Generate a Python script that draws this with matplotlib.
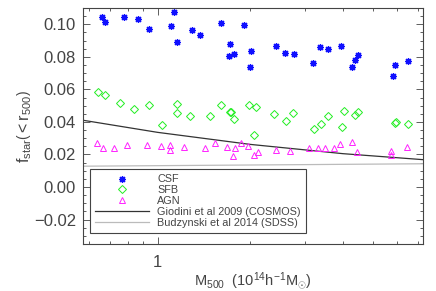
import numpy as np
import matplotlib
matplotlib.use('Agg')
import matplotlib.pyplot as plt
from matplotlib.lines import Line2D

# ---- data ----
csf_m = [0.661, 0.676, 0.781, 0.863, 0.935, 1.134, 1.109, 1.153, 1.290, 1.369,
         1.602, 1.720, 1.701, 1.773, 1.909, 2.006, 1.994, 2.422, 2.599, 2.764,
         3.189, 3.370, 3.585, 3.928, 4.268, 4.361, 4.460, 5.816, 5.895, 6.481]
csf_f = [0.1047, 0.1017, 0.1045, 0.1035, 0.0974, 0.1074, 0.0991, 0.0890, 0.0967, 0.0932,
         0.1009, 0.0879, 0.0807, 0.0820, 0.0995, 0.0838, 0.0737, 0.0867, 0.0821, 0.0815,
         0.0762, 0.0858, 0.0849, 0.0864, 0.0739, 0.0783, 0.0809, 0.0682, 0.0749, 0.0775]

sfb_m = [0.640, 0.677, 0.756, 0.839, 0.939, 1.030, 1.155, 1.154, 1.278, 1.481,
         1.602, 1.718, 1.732, 1.772, 1.979, 2.054, 2.088, 2.382, 2.604, 2.760,
         3.210, 3.402, 3.578, 3.972, 4.032, 4.387, 4.463, 5.882, 5.949, 6.520]
sfb_f = [0.0581, 0.0568, 0.0515, 0.0479, 0.0501, 0.0383, 0.0513, 0.0452, 0.0438, 0.0434,
         0.0507, 0.0459, 0.0464, 0.0418, 0.0504, 0.0318, 0.0493, 0.0446, 0.0403, 0.0455,
         0.0357, 0.0387, 0.0434, 0.0366, 0.0467, 0.0444, 0.0458, 0.0395, 0.0399, 0.0388]

agn_m = [0.635, 0.663, 0.722, 0.796, 0.922, 1.023, 1.100, 1.099, 1.215, 1.426,
         1.535, 1.679, 1.789, 1.753, 1.860, 1.967, 2.062, 2.112, 2.430, 2.683,
         3.111, 3.315, 3.501, 3.737, 3.899, 4.268, 4.428, 5.742, 5.742, 6.438]
agn_f = [0.0272, 0.0240, 0.0242, 0.0259, 0.0259, 0.0254, 0.0256, 0.0228, 0.0244, 0.0242,
         0.0271, 0.0244, 0.0240, 0.0193, 0.0268, 0.0253, 0.0194, 0.0215, 0.0225, 0.0221,
         0.0242, 0.0240, 0.0240, 0.0240, 0.0262, 0.0274, 0.0217, 0.0223, 0.0197, 0.0248]

# relations
giodini_m = [0.57, 1.0, 2.0, 4.0, 7.3]
giodini_f = [0.0411, 0.0336, 0.0262, 0.0205, 0.0168]
budz_m = [0.57, 7.3]
budz_f = [0.0128, 0.0143]

plt.rcParams['font.family'] = ['Liberation Sans', 'DejaVu Sans']
plt.rcParams['mathtext.fontset'] = 'custom'
plt.rcParams['mathtext.rm'] = 'Liberation Sans'
plt.rcParams['mathtext.it'] = 'Liberation Sans'

ink = '#444444'

fig = plt.figure(figsize=(4.36, 2.91), dpi=100)
ax = fig.add_axes([0.190, 0.1615, 0.780, 0.811])

ax.plot(giodini_m, giodini_f, color='#333333', lw=0.9)
ax.plot(budz_m, budz_f, color='#bbbbbb', lw=0.9)

ax.plot(csf_m, csf_f, ls='none', marker=(8, 2, 0), ms=5, mew=0.9, color='#1010ff')
ax.plot(sfb_m, sfb_f, ls='none', marker='D', ms=3.6, mew=0.7, mfc='none', mec='#22ee22')
ax.plot(agn_m, agn_f, ls='none', marker='^', ms=4.2, mew=0.7, mfc='none', mec='#ff22ff')

ax.set_xscale('log')
ax.set_xlim(0.572, 7.27)
ax.set_ylim(-0.035, 0.11)

ax.set_xticks([1])
ax.set_xticklabels(['1'])
ax.set_xticks([0.6, 0.7, 0.8, 0.9, 2, 3, 4, 5, 6, 7], minor=True)
ax.set_xticklabels([], minor=True)
ax.set_yticks([-0.02, 0.0, 0.02, 0.04, 0.06, 0.08, 0.10])
ax.set_yticklabels(['\u22120.02', '0.00', '0.02', '0.04', '0.06', '0.08', '0.10'])
ax.set_yticks(np.arange(-0.035, 0.1101, 0.005), minor=True)

ax.tick_params(which='both', direction='in', top=True, right=True, color=ink,
               labelcolor=ink, labelsize=12, width=0.6)
ax.tick_params(which='major', length=5, pad=5)
ax.tick_params(axis='x', which='major', pad=8)
ax.tick_params(which='minor', length=2.5)
for s in ax.spines.values():
    s.set_color(ink)
    s.set_linewidth(0.8)

ax.set_ylabel(r'$\mathrm{f_{star}}\left(<\mathrm{r_{500}}\right)$', color=ink, fontsize=11.5, labelpad=0)
ax.set_xlabel(r'$\mathrm{M_{500}}\ \ (10^{14}\mathrm{h^{-1}M_{\odot}})$', color=ink,
              fontsize=10.5, labelpad=0)

handles = [
    Line2D([], [], ls='none', marker=(8, 2, 0), ms=5, mew=0.9, color='#1010ff'),
    Line2D([], [], ls='none', marker='D', ms=3.6, mew=0.7, mfc='none', mec='#22ee22'),
    Line2D([], [], ls='none', marker='^', ms=4.2, mew=0.7, mfc='none', mec='#ff22ff'),
    Line2D([], [], color='#333333', lw=0.9),
    Line2D([], [], color='#bbbbbb', lw=0.9),
]
labels = ['CSF', 'SFB', 'AGN', 'Giodini et al 2009 (COSMOS)', 'Budzynski et al 2014 (SDSS)']
leg = ax.legend(handles, labels, loc='lower left', bbox_to_anchor=(0.02, 0.048),
                borderaxespad=0, fontsize=7.8, handlelength=5.0, handletextpad=0.8,
                labelspacing=0.08, borderpad=0.45, fancybox=False, framealpha=1)
leg.get_frame().set_edgecolor(ink)
leg.get_frame().set_linewidth(0.8)
for t in leg.get_texts():
    t.set_color(ink)

fig.savefig('out.png', dpi=100)
